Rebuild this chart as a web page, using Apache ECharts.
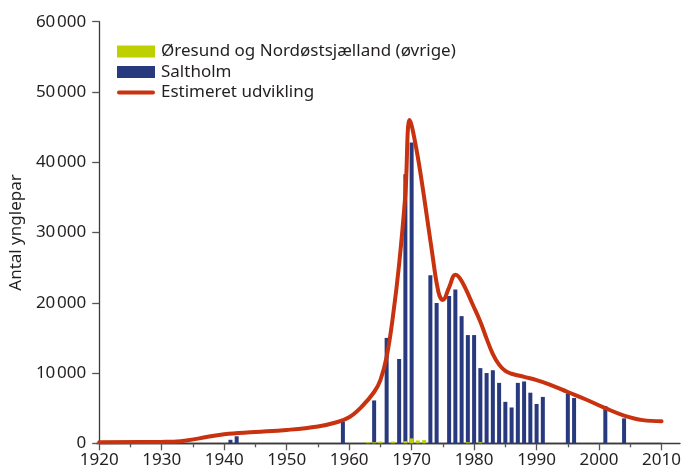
<!DOCTYPE html>
<html>
<head>
<meta charset="utf-8">
<script src="https://cdn.jsdelivr.net/npm/echarts@6/dist/echarts.min.js"></script>
<style>
html,body{margin:0;padding:0;background:#fff;}
#chart{width:684px;height:472px;}
</style>
</head>
<body>
<div id="chart"></div>
<script>
// ---- data ----
var barYears = [1941,1942,1959,1963,1964,1965,1966,1967,1968,1969,1970,1971,1972,1973,1974,1976,1977,1978,1979,1980,1981,1982,1983,1984,1985,1986,1987,1988,1989,1990,1991,1995,1996,2001,2004];
var saltholm = [500,1000,3100,0,6100,0,15000,0,12000,38300,42800,0,0,23900,19950,20950,21900,18100,15400,15400,10700,10000,10400,8600,5900,5100,8600,8800,7200,5600,6600,7100,6450,5300,3550];
var oresund  = [0,0,0,150,150,250,0,250,0,300,700,400,450,0,0,0,0,0,150,0,150,0,0,0,0,0,0,0,0,0,0,0,0,0,0];
var lineYears  = [1920,1930,1933,1936,1940,1945,1950,1955,1958,1960,1962,1964,1965,1966,1967,1968,1969,1969.7,1970.8,1972,1973.3,1974.3,1975,1976,1977,1978,1979.9,1981,1982,1983,1984,1985,1986,1988,1990,1992,1995,1998,2001,2004,2007,2010];
var lineValues = [150,200,300,700,1300,1600,1900,2400,3000,3700,5200,7300,9000,12300,18000,25500,35500,46000,41700,35000,27000,21500,20400,22200,24000,23100,19500,17300,14900,12700,11200,10300,9900,9450,9000,8400,7300,6200,5000,3950,3300,3150];
var seriesNames = ['Øresund og Nordøstsjælland (øvrige)', 'Saltholm', 'Estimeret udvikling'];
var yAxisTitle = 'Antal ynglepar';
var xMin = 1920, xMax = 2010, xStep = 10;
var yMin = 0, yMax = 60000, yStep = 10000;

function pairs(xs, ys){ return xs.map(function(x,i){ return [x, ys[i]]; }); }

var FONT = 'Noto Sans';
var FS = 17;
var chart = echarts.init(document.getElementById('chart'), null, {renderer:'canvas'});
chart.setOption({
  animation: false,
  backgroundColor: '#fff',
  textStyle: {fontFamily: FONT},
  grid: [
    {left: 96.5, right: 21, top: 21.7, bottom: 28.7},
    {left: 96.5, right: 4, top: 21.7, bottom: 28.7}
  ],
  legend: {
    orient: 'vertical',
    left: 117, top: 43, padding: 0,
    itemWidth: 38, itemHeight: 12, itemGap: 3.5,
    symbolKeepAspect: true,
    data: [
      {name: seriesNames[0], icon: 'rect'},
      {name: seriesNames[1], icon: 'rect'},
      {name: seriesNames[2], icon: 'path://M2,0 L36,0 A2,2 0 0 1 36,4 L2,4 A2,2 0 0 1 2,0 Z'}
    ],
    textStyle: {fontFamily: FONT, fontSize: FS, color: '#231f20', padding: [0,0,0,1]}
  },
  xAxis: [{
    type: 'value', gridIndex: 0, min: xMin, max: xMax, interval: xStep,
    splitLine: {show: false},
    axisLine: {show: true, lineStyle: {color: '#3a3a3a', width: 1.3}},
    axisTick: {show: true, length: 7, lineStyle: {color: '#555', width: 1.3}},
    minorTick: {show: true, splitNumber: 2, length: 4, lineStyle: {color: '#555', width: 1.3}},
    axisLabel: {fontFamily: FONT, fontSize: FS, color: '#231f20', margin: 8,
      formatter: function(v){ return String(v); }}
  },{
    type: 'value', gridIndex: 1, min: 0, max: 1,
    splitLine: {show: false},
    axisLine: {show: true, lineStyle: {color: '#3a3a3a', width: 1.3}},
    axisTick: {show: false}, axisLabel: {show: false}
  }],
  yAxis: [{
    type: 'value', gridIndex: 0, min: yMin, max: yMax, interval: yStep,
    name: yAxisTitle, nameLocation: 'middle', nameGap: 74,
    nameTextStyle: {fontFamily: FONT, fontSize: FS, color: '#231f20'},
    splitLine: {show: false},
    axisLine: {show: true, lineStyle: {color: '#3a3a3a', width: 1.3}},
    axisTick: {show: true, length: 7, lineStyle: {color: '#555', width: 1.3}},
    axisLabel: {fontFamily: FONT, fontSize: FS, color: '#231f20', margin: 13,
      formatter: function(v){ var s = String(v); return s.length > 4 ? s.slice(0, s.length-3) + '\u200A' + s.slice(-3) : s; }}
  },{
    type: 'value', gridIndex: 1, min: 0, max: 1, show: false
  }],
  series: [
    {
      name: seriesNames[1], type: 'bar', stack: 'a', xAxisIndex: 0, yAxisIndex: 0,
      barWidth: 4, data: pairs(barYears, saltholm),
      itemStyle: {color: '#283a7d'}
    },
    {
      name: seriesNames[0], type: 'bar', stack: 'a', xAxisIndex: 0, yAxisIndex: 0,
      barWidth: 4, data: pairs(barYears, oresund),
      itemStyle: {color: '#bfd000'}
    },
    {
      name: seriesNames[2], type: 'line', xAxisIndex: 0, yAxisIndex: 0,
      smooth: 0.4, symbol: 'none', z: 5,
      data: pairs(lineYears, lineValues),
      lineStyle: {color: '#c8320f', width: 4, cap: 'round', join: 'round'},
      itemStyle: {color: '#c8320f'}
    }
  ]
});
</script>
</body>
</html>
